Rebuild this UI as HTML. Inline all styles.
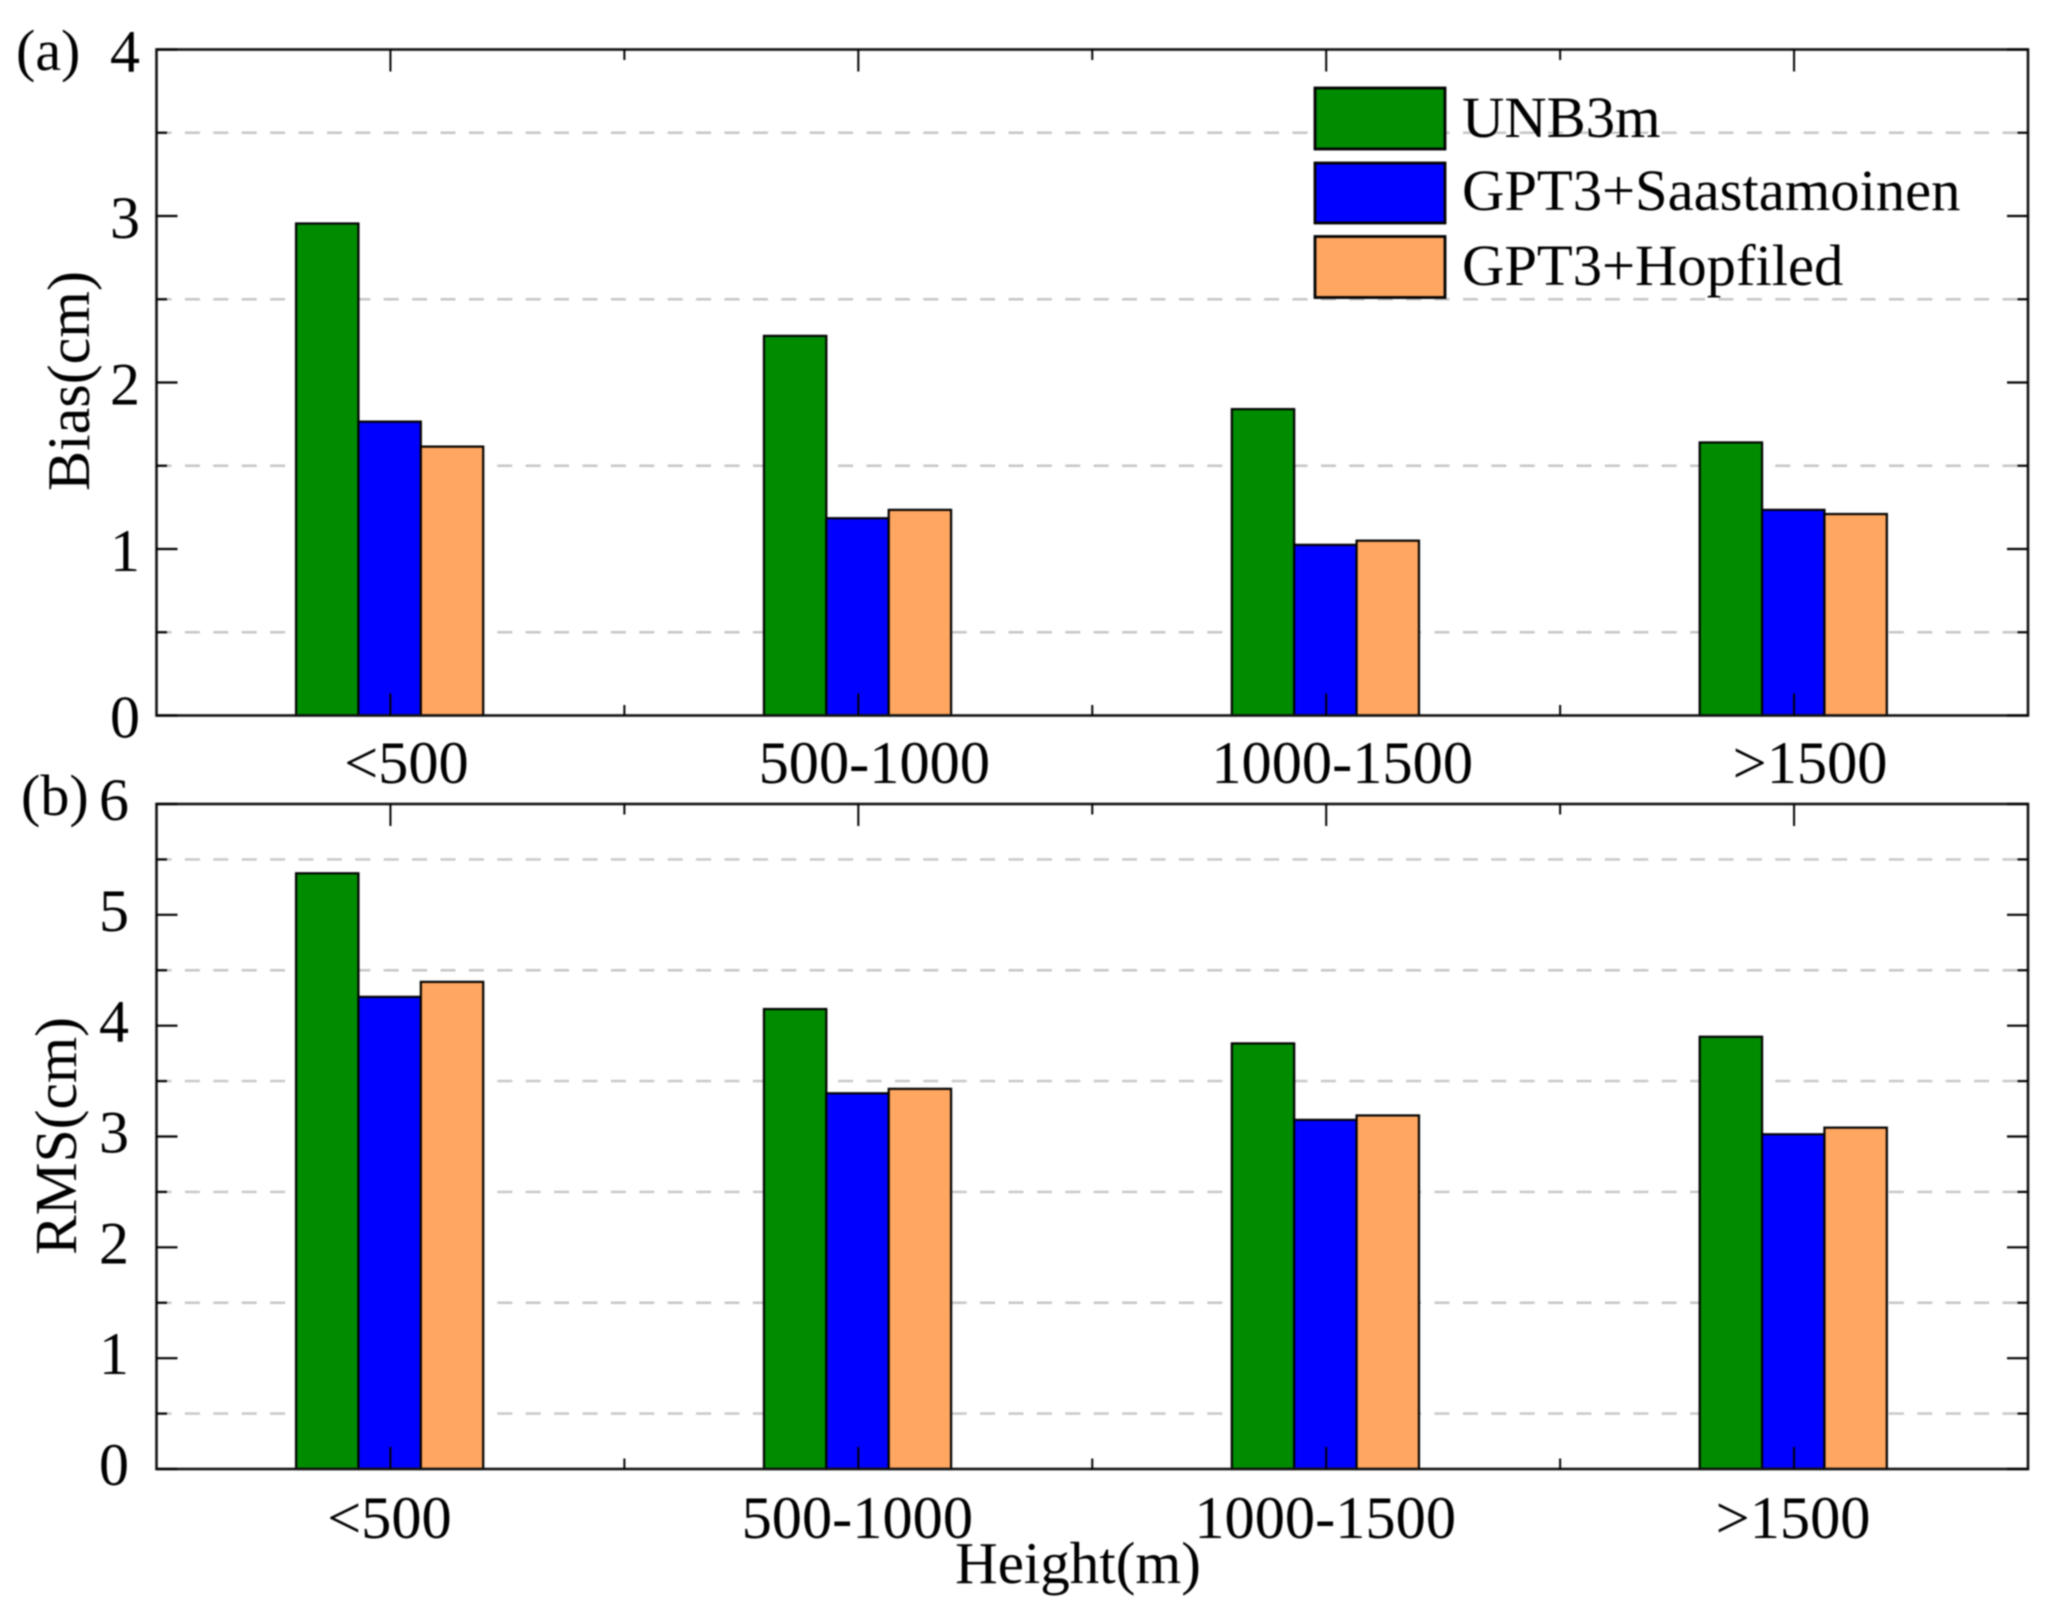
<!DOCTYPE html>
<html lang="en">
<head>
<meta charset="utf-8">
<title>Bias and RMS by height</title>
<style>
html,body{margin:0;padding:0;background:#fff;width:2048px;height:1611px;overflow:hidden}
svg{display:block;filter:blur(0.7px)}
text{font-family:"Liberation Serif","Times New Roman",serif;fill:#000}
</style>
</head>
<body>
<svg id="chart" xmlns="http://www.w3.org/2000/svg" width="2048" height="1611" viewBox="0 0 2048 1611">
<rect x="0" y="0" width="2048" height="1611" fill="#fff"/>
</svg>
<script>
const categories = ['<500', '500-1000', '1000-1500', '>1500'];
const seriesNames = ['UNB3m', 'GPT3+Saastamoinen', 'GPT3+Hopfiled'];
const seriesColors = ['#008c00', '#0000ff', '#ffa660'];
const biasUnb3m = [2.955, 2.28, 1.84, 1.64];
const biasSaastamoinen = [1.765, 1.185, 1.025, 1.235];
const biasHopfield = [1.615, 1.235, 1.05, 1.21];
const rmsUnb3m = [5.375, 4.15, 3.84, 3.9];
const rmsSaastamoinen = [4.26, 3.39, 3.15, 3.02];
const rmsHopfield = [4.395, 3.43, 3.19, 3.08];
const biasTicks = [0, 1, 2, 3, 4];
const rmsTicks = [0, 1, 2, 3, 4, 5, 6];

const NS = 'http://www.w3.org/2000/svg';
const svg = document.getElementById('chart');
const plotLeft = 156.5;
const plotRight = 2028;
const barShare = 0.4;
const barShift = -0.8;

function make(tag, attrs, parent) {
  const el = document.createElementNS(NS, tag);
  for (const k in attrs) el.setAttribute(k, attrs[k]);
  (parent || svg).appendChild(el);
  return el;
}
function xScale(pos) {
  return plotLeft + (plotRight - plotLeft) * (pos + 0.5) / categories.length;
}
function drawPanel(name, top, bottom, ticks, series, labelBaseline, labelShift, tickLabelX, tickLabelDy) {
  const maxV = ticks[ticks.length - 1];
  const yScale = v => bottom - (bottom - top) * v / maxV;
  const group = make('g', {});
  
  

  for (let i = 0; i < ticks.length - 1; i++) {
    const gy = yScale(ticks[i] + 0.5);
    const grid = make('line', {x1: plotLeft, x2: plotRight, y1: gy, y2: gy, stroke: '#c6c6c6', 'stroke-width': 2.4, 'stroke-dasharray': '15 13.4'}, group);
    
    
  }

  const slot = (plotRight - plotLeft) / categories.length;
  const barWidth = slot * barShare / series.length;
  series.forEach((values, s) => {
    values.forEach((v, c) => {
      const x = xScale(c) + barShift - barWidth * series.length / 2 + s * barWidth;
      const y = yScale(v);
      const bar = make('rect', {x: x, y: y, width: barWidth, height: bottom - y, fill: seriesColors[s], stroke: '#000', 'stroke-width': 2.2}, group);
      
      
    });
  });

  const frame = make('rect', {x: plotLeft, y: top, width: plotRight - plotLeft, height: bottom - top, fill: 'none', stroke: '#111', 'stroke-width': 2.6}, group);
  
  

  function yTick(v, len) {
    const y = yScale(v);
    const a = make('line', {x1: plotLeft, x2: plotLeft + len, y1: y, y2: y, stroke: '#000', 'stroke-width': 2.2}, group);
    
    
    const b = make('line', {x1: plotRight - len, x2: plotRight, y1: y, y2: y, stroke: '#000', 'stroke-width': 2.2}, group);
    
    
  }
  function xTick(pos, len) {
    const x = xScale(pos);
    const a = make('line', {x1: x, x2: x, y1: bottom, y2: bottom - len, stroke: '#000', 'stroke-width': 2}, group);
    
    
    const b = make('line', {x1: x, x2: x, y1: top, y2: top + len, stroke: '#000', 'stroke-width': 2}, group);
    
    
  }
  ticks.forEach((t, i) => {
    yTick(t, 21);
    if (i < ticks.length - 1) yTick(t + 0.5, 10.5);
    const lab = make('text', {x: tickLabelX, y: yScale(t) + tickLabelDy, 'font-size': 60, 'text-anchor': 'end'}, group);
    
    
    lab.textContent = t;
  });
  categories.forEach((cat, c) => {
    xTick(c, 22);
    if (c < categories.length - 1) xTick(c + 0.5, 10.5);
    const lab = make('text', {x: xScale(c) + labelShift, y: labelBaseline, 'font-size': 60.4, 'text-anchor': 'middle'}, group);
    
    
    lab.textContent = cat;
  });
}

drawPanel('bias', 49.5, 715.5, biasTicks, [biasUnb3m, biasSaastamoinen, biasHopfield], 783, 16, 140, 22);
drawPanel('rms', 804, 1469, rmsTicks, [rmsUnb3m, rmsSaastamoinen, rmsHopfield], 1538, -1, 129, 16);

const legendTops = [88, 163, 236.5];
const legendHeights = [61, 60, 61];
const legendBaselines = [137, 210, 285];
const legend = make('g', {});


seriesNames.forEach((n, i) => {
  const sw = make('rect', {x: 1315, y: legendTops[i], width: 130, height: legendHeights[i], fill: seriesColors[i], stroke: '#000', 'stroke-width': 2.8}, legend);
  
  
  const tx = make('text', {x: 1462, y: legendBaselines[i], 'font-size': 58.6}, legend);
  
  
  tx.textContent = n;
});

const panelA = make('text', {x: 16, y: 70, 'font-size': 58});


panelA.textContent = '(a)';
const panelB = make('text', {x: 21, y: 815, 'font-size': 58});


panelB.textContent = '(b)';
const biasTitle = make('text', {transform: 'translate(89 381) rotate(-90)', 'font-size': 60, 'text-anchor': 'middle'});


biasTitle.textContent = 'Bias(cm)';
const rmsTitle = make('text', {transform: 'translate(76 1136) rotate(-90)', 'font-size': 59.5, 'text-anchor': 'middle'});


rmsTitle.textContent = 'RMS(cm)';
const xTitle = make('text', {x: 1078, y: 1583, 'font-size': 59, 'text-anchor': 'middle'});


xTitle.textContent = 'Height(m)';
</script>
</body>
</html>
